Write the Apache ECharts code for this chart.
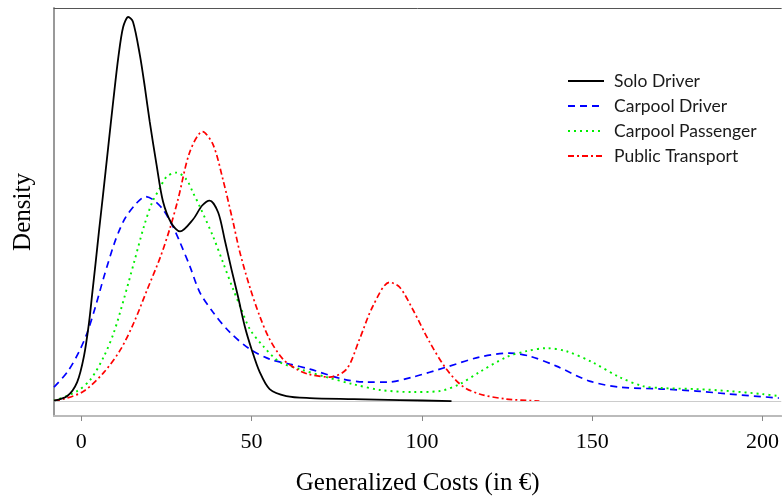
<!DOCTYPE html>
<html>
<head>
<meta charset="utf-8">
<script src="https://cdn.jsdelivr.net/npm/echarts@6/dist/echarts.min.js"></script>
<style>html,body{margin:0;padding:0;background:#fff;}#c{width:782px;height:501px;}</style>
</head>
<body>
<div id="c"></div>
<script>
const seriesNames = ['Solo Driver', 'Carpool Driver', 'Carpool Passenger', 'Public Transport'];
const xTicks = [0, 50, 100, 150, 200];

const soloX = [-8.0,-4.1,-1.2,0.8,2.3,3.2,4.2,5.2,6.4,7.9,9.4,10.9,12.3,13.8,15.2,17.2,18.7,20.1,22.1,24.0,26.5,29.0,32.8,35.5,37.7,40.2,42.1,44.1,46.0,48.0,50.0,52.4,55.3,60.2,67.1,80.0,93.5,108.7];
const soloY = [0.00003,0.0005,0.0019,0.0045,0.0079,0.0107,0.0138,0.0170,0.0207,0.0254,0.0301,0.0345,0.0375,0.0385,0.0380,0.0347,0.0314,0.0280,0.0237,0.0200,0.0178,0.0170,0.0182,0.0196,0.0201,0.0189,0.0162,0.0132,0.0105,0.0075,0.0052,0.0029,0.0012,0.0005,0.0003,0.0002,0.0001,0.0000];

const cdX = [-8.0,-4.1,-0.7,1.8,4.2,6.7,9.6,11.3,13.0,16.4,18.9,21.0,24.0,26.9,29.0,31.9,34.8,38.7,43.6,49.5,55.3,61.2,67.1,76.8,84.0,90.0,97.3,107.2,116.9,125.7,131.6,139.5,149.2,158.0,170.6,180.6,190.2,204.8];
const cdY = [0.0014,0.0029,0.0049,0.0069,0.0095,0.0125,0.0157,0.0172,0.0184,0.0199,0.0205,0.0202,0.0192,0.0175,0.0159,0.0135,0.0109,0.0089,0.0069,0.0052,0.0042,0.0037,0.0032,0.0022,0.0019,0.0019,0.0024,0.0034,0.0044,0.0048,0.0045,0.0035,0.0020,0.0014,0.0012,0.0010,0.0007,0.0003];

const cpX = [-8.0,-1.2,2.8,6.7,9.6,12.5,15.5,18.4,20.8,23.0,25.1,28.0,30.9,32.8,34.8,38.7,41.6,44.6,47.0,49.5,53.4,58.3,64.1,72.0,79.7,88.0,97.3,105.2,111.1,116.9,124.8,130.7,136.5,142.4,150.0,158.0,164.8,170.6,180.6,190.2,199.9,204.8];
const cpY = [0.00003,0.0010,0.0022,0.0045,0.0069,0.0102,0.0139,0.0175,0.0199,0.0213,0.0225,0.0229,0.0222,0.0209,0.0195,0.0165,0.0139,0.0112,0.0092,0.0072,0.0055,0.0039,0.0032,0.0024,0.0017,0.0011,0.0009,0.0010,0.0017,0.0029,0.0044,0.0050,0.0053,0.0050,0.0039,0.0024,0.0015,0.0013,0.0012,0.0010,0.0007,0.0005];

const ptX = [-8.0,-5.1,0.8,6.7,11.6,15.5,19.4,23.3,26.2,28.4,31.9,35.6,38.7,41.6,44.6,46.5,49.5,52.4,55.3,59.2,63.2,66.6,72.9,77.9,81.7,85.6,90.5,93.5,97.3,102.3,107.2,111.9,116.9,124.8,134.5];
const ptY = [0.00003,0.0002,0.0010,0.0029,0.0052,0.0079,0.0112,0.0145,0.0175,0.0202,0.0250,0.0270,0.0257,0.0222,0.0179,0.0150,0.0114,0.0085,0.0062,0.0042,0.0032,0.0027,0.0024,0.0032,0.0062,0.0095,0.0119,0.0114,0.0092,0.0059,0.0032,0.0015,0.0007,0.0002,0.0000];

function pairs(xs, ys) { return xs.map((x, i) => [x, ys[i]]); }

const chart = echarts.init(document.getElementById('c'), null, { renderer: 'canvas' });
const xMin = -8, xMax = 205.5;
chart.setOption({
  animation: false,
  backgroundColor: '#fff',
  grid: { left: 54, right: 0, top: 8, bottom: 84, containLabel: false },
  legend: {
    orient: 'vertical', left: 567, top: 72, padding: 0,
    itemWidth: 36, itemHeight: 14, itemGap: 7,
    data: seriesNames,
    itemStyle: { color: 'rgba(0,0,0,0)', borderColor: 'rgba(0,0,0,0)', borderWidth: 0 },
    textStyle: { fontFamily: 'Lato', fontSize: 17.5, color: '#1a1a1a', lineHeight: 18, padding: [0, 0, 0, 5] }
  },
  xAxis: [{
    type: 'value', min: xMin, max: xMax, position: 'bottom',
    name: 'Generalized Costs (in €)', nameLocation: 'middle', nameGap: 55,
    nameTextStyle: { fontFamily: 'Liberation Serif', fontSize: 25, color: '#000' },
    axisLine: { show: true, onZero: false, lineStyle: { color: '#bbb', width: 2 } },
    axisTick: { show: true, length: 5, customValues: xTicks, lineStyle: { color: '#888', width: 1 } },
    axisLabel: { customValues: xTicks, fontFamily: 'Liberation Serif', fontSize: 22, color: '#000', margin: 15 },
    splitLine: { show: false }
  }, {
    type: 'value', min: xMin, max: xMax, position: 'top',
    axisLine: { show: true, onZero: false, lineStyle: { color: '#555', width: 1 } },
    axisTick: { show: false }, axisLabel: { show: false }, splitLine: { show: false }
  }],
  yAxis: {
    type: 'value', min: -0.0015, max: 0.0394,
    name: 'Density', nameLocation: 'middle', nameGap: 18, nameRotate: 90,
    nameTextStyle: { fontFamily: 'Liberation Serif', fontSize: 25, color: '#000' },
    axisLine: { show: true, onZero: false, lineStyle: { color: '#999', width: 2 } },
    axisTick: { show: false }, axisLabel: { show: false }, splitLine: { show: false }
  },
  series: [
    { name: seriesNames[0], type: 'line', data: pairs(soloX, soloY), smooth: 0.3, symbol: 'none',
      lineStyle: { color: '#000', width: 1.8 }, itemStyle: { color: '#000' }, z: 5,
      markLine: { silent: true, symbol: 'none', label: { show: false },
        lineStyle: { color: '#ccc', width: 1, type: 'solid' }, data: [{ yAxis: 0 }] } },
    { name: seriesNames[1], type: 'line', data: pairs(cdX, cdY), smooth: 0.3, symbol: 'none',
      lineStyle: { color: '#0000ff', width: 1.7, type: [7, 5] }, itemStyle: { color: '#0000ff' } },
    { name: seriesNames[2], type: 'line', data: pairs(cpX, cpY), smooth: 0.3, symbol: 'none',
      lineStyle: { color: '#00ee00', width: 1.9, type: [2, 4] }, itemStyle: { color: '#00ee00' } },
    { name: seriesNames[3], type: 'line', data: pairs(ptX, ptY), smooth: 0.3, symbol: 'none',
      lineStyle: { color: '#ff0000', width: 1.7, type: [6, 3, 2, 3] }, itemStyle: { color: '#ff0000' } }
  ]
});
</script>
</body>
</html>
